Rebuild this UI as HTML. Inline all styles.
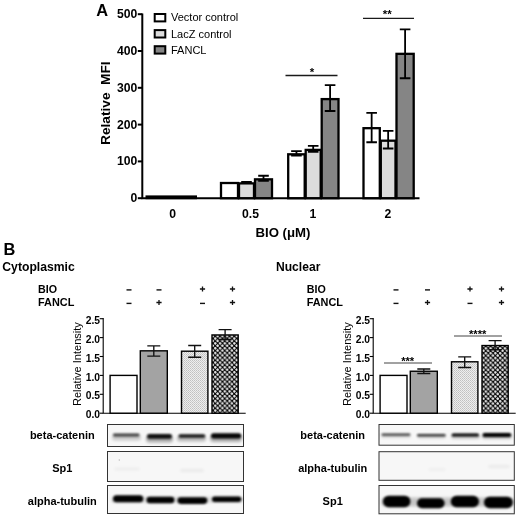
<!DOCTYPE html>
<html><head><meta charset="utf-8"><title>Figure</title>
<style>html,body{margin:0;padding:0;background:#fff;}svg{display:block;}text{font-family:"Liberation Sans",sans-serif;fill:#000;}</style>
</head><body>
<svg width="520" height="517" viewBox="0 0 520 517">
<defs>
<pattern id="dots" width="2" height="2" patternUnits="userSpaceOnUse"><rect width="2" height="2" fill="#eeeeee"/><rect x="0" y="0" width="1" height="1" fill="#c0c0c0"/><rect x="1" y="1" width="1" height="1" fill="#cccccc"/></pattern>
<pattern id="chk" x="214.05" y="337.35" width="4.77" height="4.8" patternUnits="userSpaceOnUse"><rect width="4.77" height="4.8" fill="#0a0a0a"/><path d="M1.19 -0.45L2.84 1.2L1.19 2.85L-0.46 1.2ZM3.575 1.95L5.225 3.6L3.575 5.25L1.925 3.6Z" fill="#e6e6e6"/></pattern>
<pattern id="chk2" x="212.75" y="337.55" width="4.77" height="4.8" patternUnits="userSpaceOnUse"><rect width="4.77" height="4.8" fill="#0a0a0a"/><path d="M1.19 -0.45L2.84 1.2L1.19 2.85L-0.46 1.2ZM3.575 1.95L5.225 3.6L3.575 5.25L1.925 3.6Z" fill="#e6e6e6"/></pattern>
<filter id="b1" x="-20%" y="-100%" width="140%" height="300%"><feGaussianBlur stdDeviation="1.1"/></filter>
<filter id="b3" x="-20%" y="-150%" width="140%" height="400%"><feGaussianBlur stdDeviation="1.8"/></filter>
<filter id="b2" x="-20%" y="-100%" width="140%" height="300%"><feGaussianBlur stdDeviation="0.8"/></filter>
</defs>
<rect width="520" height="517" fill="#fff"/>
<text x="96.2" y="16.1" font-size="16.4" text-anchor="start" font-weight="bold">A</text>
<path d="M142.3 13.5V199.2M141.3 198.2H419.5" stroke="#000" stroke-width="2" fill="none"/>
<path d="M137.8 198.20H142.3" stroke="#000" stroke-width="2"/>
<text x="137.3" y="202.1" font-size="12.2" text-anchor="end" font-weight="bold">0</text>
<path d="M137.8 161.40H142.3" stroke="#000" stroke-width="2"/>
<text x="137.3" y="165.3" font-size="12.2" text-anchor="end" font-weight="bold">100</text>
<path d="M137.8 124.60H142.3" stroke="#000" stroke-width="2"/>
<text x="137.3" y="128.5" font-size="12.2" text-anchor="end" font-weight="bold">200</text>
<path d="M137.8 87.80H142.3" stroke="#000" stroke-width="2"/>
<text x="137.3" y="91.7" font-size="12.2" text-anchor="end" font-weight="bold">300</text>
<path d="M137.8 51.00H142.3" stroke="#000" stroke-width="2"/>
<text x="137.3" y="54.9" font-size="12.2" text-anchor="end" font-weight="bold">400</text>
<path d="M137.8 14.20H142.3" stroke="#000" stroke-width="2"/>
<text x="137.3" y="18.1" font-size="12.2" text-anchor="end" font-weight="bold">500</text>
<text transform="translate(110.2 145) rotate(-90)" font-size="13.7" font-weight="bold" xml:space="preserve">Relative  MFI</text>
<rect x="154.7" y="14.0" width="10.6" height="7.4" fill="#fff" stroke="#000" stroke-width="2"/>
<text x="171" y="21.4" font-size="11" text-anchor="start">Vector control</text>
<rect x="154.7" y="30.1" width="10.6" height="7.4" fill="#dcdcdc" stroke="#000" stroke-width="2"/>
<text x="171" y="37.5" font-size="11" text-anchor="start">LacZ control</text>
<rect x="154.7" y="46.2" width="10.6" height="7.4" fill="#858585" stroke="#000" stroke-width="2"/>
<text x="171" y="53.6" font-size="11" text-anchor="start">FANCL</text>
<rect x="221" y="183.01" width="17" height="15.19" fill="#fff" stroke="#000" stroke-width="2.3"/>
<rect x="239" y="183.38" width="15" height="14.82" fill="#dcdcdc" stroke="#000" stroke-width="2.3"/>
<rect x="255" y="179.33" width="17" height="18.87" fill="#858585" stroke="#000" stroke-width="2.3"/>
<rect x="288.2" y="154.30" width="16.5" height="43.90" fill="#fff" stroke="#000" stroke-width="2.3"/>
<rect x="305.7" y="149.89" width="15.0" height="48.31" fill="#dcdcdc" stroke="#000" stroke-width="2.3"/>
<rect x="321.7" y="99.10" width="16.80000000000001" height="99.10" fill="#858585" stroke="#000" stroke-width="2.3"/>
<rect x="363.5" y="128.18" width="16.30000000000001" height="70.02" fill="#fff" stroke="#000" stroke-width="2.3"/>
<rect x="380.8" y="140.69" width="14.699999999999989" height="57.51" fill="#dcdcdc" stroke="#000" stroke-width="2.3"/>
<rect x="396.5" y="53.84" width="17.19999999999999" height="144.36" fill="#858585" stroke="#000" stroke-width="2.3"/>
<path d="M246.5 181.82V182.93M241.2 181.82H251.8M241.2 182.93H251.8" stroke="#000" stroke-width="1.8" fill="none"/>
<path d="M263.5 175.75V180.90M258.2 175.75H268.8M258.2 180.90H268.8" stroke="#000" stroke-width="1.8" fill="none"/>
<path d="M296.45 151.10V155.51M291.15 151.10H301.75M291.15 155.51H301.75" stroke="#000" stroke-width="1.8" fill="none"/>
<path d="M313.2 145.94V151.83M307.9 145.94H318.5M307.9 151.83H318.5" stroke="#000" stroke-width="1.8" fill="none"/>
<path d="M330.1 85.22V110.98M324.8 85.22H335.40000000000003M324.8 110.98H335.40000000000003" stroke="#000" stroke-width="1.8" fill="none"/>
<path d="M371.65 112.82V142.26M366.34999999999997 112.82H376.95M366.34999999999997 142.26H376.95" stroke="#000" stroke-width="1.8" fill="none"/>
<path d="M388.15 130.86V148.52M382.84999999999997 130.86H393.45M382.84999999999997 148.52H393.45" stroke="#000" stroke-width="1.8" fill="none"/>
<path d="M405.1 29.29V78.23M399.8 29.29H410.40000000000003M399.8 78.23H410.40000000000003" stroke="#000" stroke-width="1.8" fill="none"/>
<rect x="145.5" y="195.4" width="51.5" height="3.8" fill="#000"/>
<text x="172.7" y="218.3" font-size="12.2" text-anchor="middle" font-weight="bold">0</text>
<text x="250.5" y="218.3" font-size="12.2" text-anchor="middle" font-weight="bold">0.5</text>
<text x="313" y="218.3" font-size="12.2" text-anchor="middle" font-weight="bold">1</text>
<text x="388" y="218.3" font-size="12.2" text-anchor="middle" font-weight="bold">2</text>
<text x="283" y="237.4" font-size="13.2" text-anchor="middle" font-weight="bold">BIO (μM)</text>
<path d="M285.5 75.5H337.5M363 18.3H414" stroke="#1a1a1a" stroke-width="1.3"/>
<text x="312" y="75.6" font-size="11.5" text-anchor="middle" font-weight="bold">*</text>
<text x="387.2" y="18.1" font-size="11.5" text-anchor="middle" font-weight="bold">**</text>
<text x="3.6" y="254.8" font-size="16.4" text-anchor="start" font-weight="bold">B</text>
<text x="2.3" y="270.7" font-size="12.2" text-anchor="start" font-weight="bold">Cytoplasmic</text>
<text x="276" y="270.7" font-size="12.1" text-anchor="start" font-weight="bold">Nuclear</text>
<text x="38" y="293" font-size="10.7" text-anchor="start" font-weight="bold">BIO</text>
<text x="38" y="306.3" font-size="10.9" text-anchor="start" font-weight="bold">FANCL</text>
<path d="M126.5 289.9H131.5" stroke="#111" stroke-width="1.4"/>
<path d="M156.5 289.9H161.5" stroke="#111" stroke-width="1.4"/>
<path d="M199.9 289H205.1M202.5 286.4V291.6" stroke="#111" stroke-width="1.3"/>
<path d="M229.9 289H235.1M232.5 286.4V291.6" stroke="#111" stroke-width="1.3"/>
<path d="M126.5 303.4H131.5" stroke="#111" stroke-width="1.4"/>
<path d="M156.4 302.5H161.6M159 299.9V305.1" stroke="#111" stroke-width="1.3"/>
<path d="M200.0 303.4H205.0" stroke="#111" stroke-width="1.4"/>
<path d="M229.9 302.5H235.1M232.5 299.9V305.1" stroke="#111" stroke-width="1.3"/>
<path d="M103.2 318V413.2H245.7" stroke="#000" stroke-width="1.1" fill="none"/>
<path d="M99.7 413.20H103.2" stroke="#000" stroke-width="1.1"/>
<text x="100.0" y="418.3" font-size="10.3" text-anchor="end" font-weight="bold">0.0</text>
<path d="M99.7 394.30H103.2" stroke="#000" stroke-width="1.1"/>
<text x="100.0" y="399.4" font-size="10.3" text-anchor="end" font-weight="bold">0.5</text>
<path d="M99.7 375.40H103.2" stroke="#000" stroke-width="1.1"/>
<text x="100.0" y="380.5" font-size="10.3" text-anchor="end" font-weight="bold">1.0</text>
<path d="M99.7 356.50H103.2" stroke="#000" stroke-width="1.1"/>
<text x="100.0" y="361.6" font-size="10.3" text-anchor="end" font-weight="bold">1.5</text>
<path d="M99.7 337.60H103.2" stroke="#000" stroke-width="1.1"/>
<text x="100.0" y="342.7" font-size="10.3" text-anchor="end" font-weight="bold">2.0</text>
<path d="M99.7 318.70H103.2" stroke="#000" stroke-width="1.1"/>
<text x="100.0" y="323.8" font-size="10.3" text-anchor="end" font-weight="bold">2.5</text>
<text transform="translate(81 406) rotate(-90)" font-size="11">Relative Intensity</text>
<rect x="110.10000000000001" y="375.40" width="26.899999999999984" height="37.80" fill="#fff" stroke="#000" stroke-width="1.4"/>
<rect x="140.29999999999998" y="350.83" width="27.000000000000007" height="62.37" fill="#a3a3a3" stroke="#000" stroke-width="1.4"/>
<rect x="181.5" y="351.21" width="26.399999999999984" height="61.99" fill="url(#dots)" stroke="#000" stroke-width="1.4"/>
<rect x="212.0" y="334.95" width="26.199999999999996" height="78.25" fill="url(#chk)" stroke="#000" stroke-width="1.4"/>
<path d="M153.8 345.92V356.12M147.3 345.92H160.3M147.3 356.12H160.3" stroke="#111" stroke-width="1.35" fill="none"/>
<path d="M194.7 345.54V357.26M188.2 345.54H201.2M188.2 357.26H201.2" stroke="#111" stroke-width="1.35" fill="none"/>
<path d="M225.10000000000002 329.66V339.49M218.60000000000002 329.66H231.60000000000002M218.60000000000002 339.49H231.60000000000002" stroke="#111" stroke-width="1.35" fill="none"/>
<rect x="107.5" y="424.5" width="136.0" height="22.0" fill="#f7f7f7" stroke="#333" stroke-width="1"/>
<rect x="107.5" y="451.5" width="136.0" height="30.0" fill="#f7f7f7" stroke="#333" stroke-width="1"/>
<rect x="107.5" y="485.5" width="136.0" height="28.0" fill="#f7f7f7" stroke="#333" stroke-width="1"/>
<text x="62.3" y="439.3" font-size="11" text-anchor="middle" font-weight="bold">beta-catenin</text>
<text x="62.3" y="471.8" font-size="11" text-anchor="middle" font-weight="bold">Sp1</text>
<text x="62.3" y="504.5" font-size="11" text-anchor="middle" font-weight="bold">alpha-tubulin</text>
<text x="306.7" y="293" font-size="10.7" text-anchor="start" font-weight="bold">BIO</text>
<text x="306.7" y="306.3" font-size="10.9" text-anchor="start" font-weight="bold">FANCL</text>
<path d="M393.5 289.9H398.5" stroke="#111" stroke-width="1.4"/>
<path d="M425.0 289.9H430.0" stroke="#111" stroke-width="1.4"/>
<path d="M467.4 289H472.6M470 286.4V291.6" stroke="#111" stroke-width="1.3"/>
<path d="M498.9 289H504.1M501.5 286.4V291.6" stroke="#111" stroke-width="1.3"/>
<path d="M393.5 303.4H398.5" stroke="#111" stroke-width="1.4"/>
<path d="M424.9 302.5H430.1M427.5 299.9V305.1" stroke="#111" stroke-width="1.3"/>
<path d="M467.5 303.4H472.5" stroke="#111" stroke-width="1.4"/>
<path d="M498.9 302.5H504.1M501.5 299.9V305.1" stroke="#111" stroke-width="1.3"/>
<path d="M373.2 318V413.2H515.7" stroke="#000" stroke-width="1.1" fill="none"/>
<path d="M369.7 413.20H373.2" stroke="#000" stroke-width="1.1"/>
<text x="370.0" y="418.3" font-size="10.3" text-anchor="end" font-weight="bold">0.0</text>
<path d="M369.7 394.30H373.2" stroke="#000" stroke-width="1.1"/>
<text x="370.0" y="399.4" font-size="10.3" text-anchor="end" font-weight="bold">0.5</text>
<path d="M369.7 375.40H373.2" stroke="#000" stroke-width="1.1"/>
<text x="370.0" y="380.5" font-size="10.3" text-anchor="end" font-weight="bold">1.0</text>
<path d="M369.7 356.50H373.2" stroke="#000" stroke-width="1.1"/>
<text x="370.0" y="361.6" font-size="10.3" text-anchor="end" font-weight="bold">1.5</text>
<path d="M369.7 337.60H373.2" stroke="#000" stroke-width="1.1"/>
<text x="370.0" y="342.7" font-size="10.3" text-anchor="end" font-weight="bold">2.0</text>
<path d="M369.7 318.70H373.2" stroke="#000" stroke-width="1.1"/>
<text x="370.0" y="323.8" font-size="10.3" text-anchor="end" font-weight="bold">2.5</text>
<text transform="translate(351 406) rotate(-90)" font-size="11">Relative Intensity</text>
<rect x="380.09999999999997" y="375.40" width="26.899999999999984" height="37.80" fill="#fff" stroke="#000" stroke-width="1.4"/>
<rect x="410.3" y="371.24" width="27.000000000000007" height="41.96" fill="#a3a3a3" stroke="#000" stroke-width="1.4"/>
<rect x="451.5" y="361.79" width="26.399999999999984" height="51.41" fill="url(#dots)" stroke="#000" stroke-width="1.4"/>
<rect x="482.0" y="345.54" width="26.199999999999996" height="67.66" fill="url(#chk2)" stroke="#000" stroke-width="1.4"/>
<path d="M423.8 368.97V373.51M417.3 368.97H430.3M417.3 373.51H430.3" stroke="#111" stroke-width="1.35" fill="none"/>
<path d="M464.7 356.88V367.46M458.2 356.88H471.2M458.2 367.46H471.2" stroke="#111" stroke-width="1.35" fill="none"/>
<path d="M495.1 340.62V349.70M488.6 340.62H501.6M488.6 349.70H501.6" stroke="#111" stroke-width="1.35" fill="none"/>
<path d="M384 363H432" stroke="#444" stroke-width="1"/>
<text x="407.7" y="364.9" font-size="11.2" text-anchor="middle" font-weight="bold">***</text>
<path d="M454 336H502" stroke="#444" stroke-width="1"/>
<text x="477.7" y="337.9" font-size="11.2" text-anchor="middle" font-weight="bold">****</text>
<rect x="379" y="424.5" width="135.29999999999995" height="20.69999999999999" fill="#f7f7f7" stroke="#333" stroke-width="1"/>
<rect x="379" y="451.7" width="135.29999999999995" height="28.600000000000023" fill="#f7f7f7" stroke="#333" stroke-width="1"/>
<rect x="379" y="485.5" width="135.29999999999995" height="28.299999999999955" fill="#f7f7f7" stroke="#333" stroke-width="1"/>
<text x="332.7" y="439.3" font-size="11" text-anchor="middle" font-weight="bold">beta-catenin</text>
<text x="332.7" y="471.8" font-size="11" text-anchor="middle" font-weight="bold">alpha-tubulin</text>
<text x="332.7" y="504.5" font-size="11" text-anchor="middle" font-weight="bold">Sp1</text>
<rect x="112" y="434.50" width="29" height="6" rx="3.0" fill="#000" opacity="0.18" filter="url(#b3)"/>
<rect x="146" y="435.50" width="27" height="7" rx="3.5" fill="#000" opacity="0.3" filter="url(#b3)"/>
<rect x="177" y="435.50" width="29" height="6" rx="3.0" fill="#000" opacity="0.25" filter="url(#b3)"/>
<rect x="210" y="435.00" width="32" height="7" rx="3.5" fill="#000" opacity="0.3" filter="url(#b3)"/>
<rect x="113" y="433.60" width="26.5" height="2.8" rx="1.4" fill="#000" opacity="0.7" filter="url(#b1)"/>
<rect x="147" y="434.10" width="25" height="4.6" rx="2.3" fill="#000" opacity="0.92" filter="url(#b1)"/>
<rect x="178.5" y="434.20" width="26.80000000000001" height="3.6" rx="1.8" fill="#000" opacity="0.88" filter="url(#b1)"/>
<rect x="211" y="433.20" width="30.30000000000001" height="5.2" rx="2.6" fill="#000" opacity="0.97" filter="url(#b1)"/>
<rect x="111" y="496.80" width="132" height="6" rx="3.0" fill="#000" opacity="0.12" filter="url(#b3)"/>
<rect x="113" y="495.30" width="30.30000000000001" height="7" rx="3.5" fill="#000" opacity="1" filter="url(#b2)"/>
<rect x="146.5" y="496.70" width="27.900000000000006" height="6.6" rx="3.3" fill="#000" opacity="1" filter="url(#b2)"/>
<rect x="177.5" y="497.30" width="29.80000000000001" height="6.6" rx="3.3" fill="#000" opacity="1" filter="url(#b2)"/>
<rect x="212" y="496.60" width="29.30000000000001" height="5.4" rx="2.7" fill="#000" opacity="1" filter="url(#b2)"/>
<rect x="114" y="467.50" width="26" height="3" rx="1.5" fill="#000" opacity="0.04" filter="url(#b3)"/>
<rect x="180" y="469.00" width="24" height="3" rx="1.5" fill="#000" opacity="0.055" filter="url(#b3)"/>
<circle cx="119.3" cy="460" r="0.7" fill="#000" opacity="0.25"/>
<rect x="381" y="434.00" width="30" height="4" rx="2.0" fill="#000" opacity="0.12" filter="url(#b3)"/>
<rect x="417" y="434.50" width="29" height="4" rx="2.0" fill="#000" opacity="0.12" filter="url(#b3)"/>
<rect x="451" y="434.00" width="29" height="5" rx="2.5" fill="#000" opacity="0.18" filter="url(#b3)"/>
<rect x="482" y="434.00" width="30" height="5" rx="2.5" fill="#000" opacity="0.22" filter="url(#b3)"/>
<rect x="381.5" y="433.50" width="28.899999999999977" height="2.2" rx="1.1" fill="#000" opacity="0.72" filter="url(#b2)"/>
<rect x="417" y="433.95" width="28.600000000000023" height="2.5" rx="1.25" fill="#000" opacity="0.75" filter="url(#b2)"/>
<rect x="451.6" y="433.40" width="27.399999999999977" height="3.2" rx="1.6" fill="#000" opacity="0.97" filter="url(#b2)"/>
<rect x="482.5" y="432.90" width="28.80000000000001" height="4.2" rx="2.1" fill="#000" opacity="1" filter="url(#b2)"/>
<rect x="381" y="497.50" width="133" height="9" rx="4.5" fill="#000" opacity="0.2" filter="url(#b3)"/>
<rect x="383" y="495.65" width="27.399999999999977" height="11.5" rx="5.75" fill="#000" opacity="1" filter="url(#b1)"/>
<rect x="417" y="498.20" width="27.600000000000023" height="10" rx="5.0" fill="#000" opacity="1" filter="url(#b1)"/>
<rect x="450.8" y="495.75" width="28.19999999999999" height="11.5" rx="5.75" fill="#000" opacity="1" filter="url(#b1)"/>
<rect x="484" y="496.65" width="28.799999999999955" height="11.5" rx="5.75" fill="#000" opacity="1" filter="url(#b1)"/>
<rect x="488" y="465.00" width="22" height="3" rx="1.5" fill="#000" opacity="0.05" filter="url(#b3)"/>
<rect x="428" y="468.00" width="18" height="3" rx="1.5" fill="#000" opacity="0.03" filter="url(#b3)"/>
</svg></body></html>
